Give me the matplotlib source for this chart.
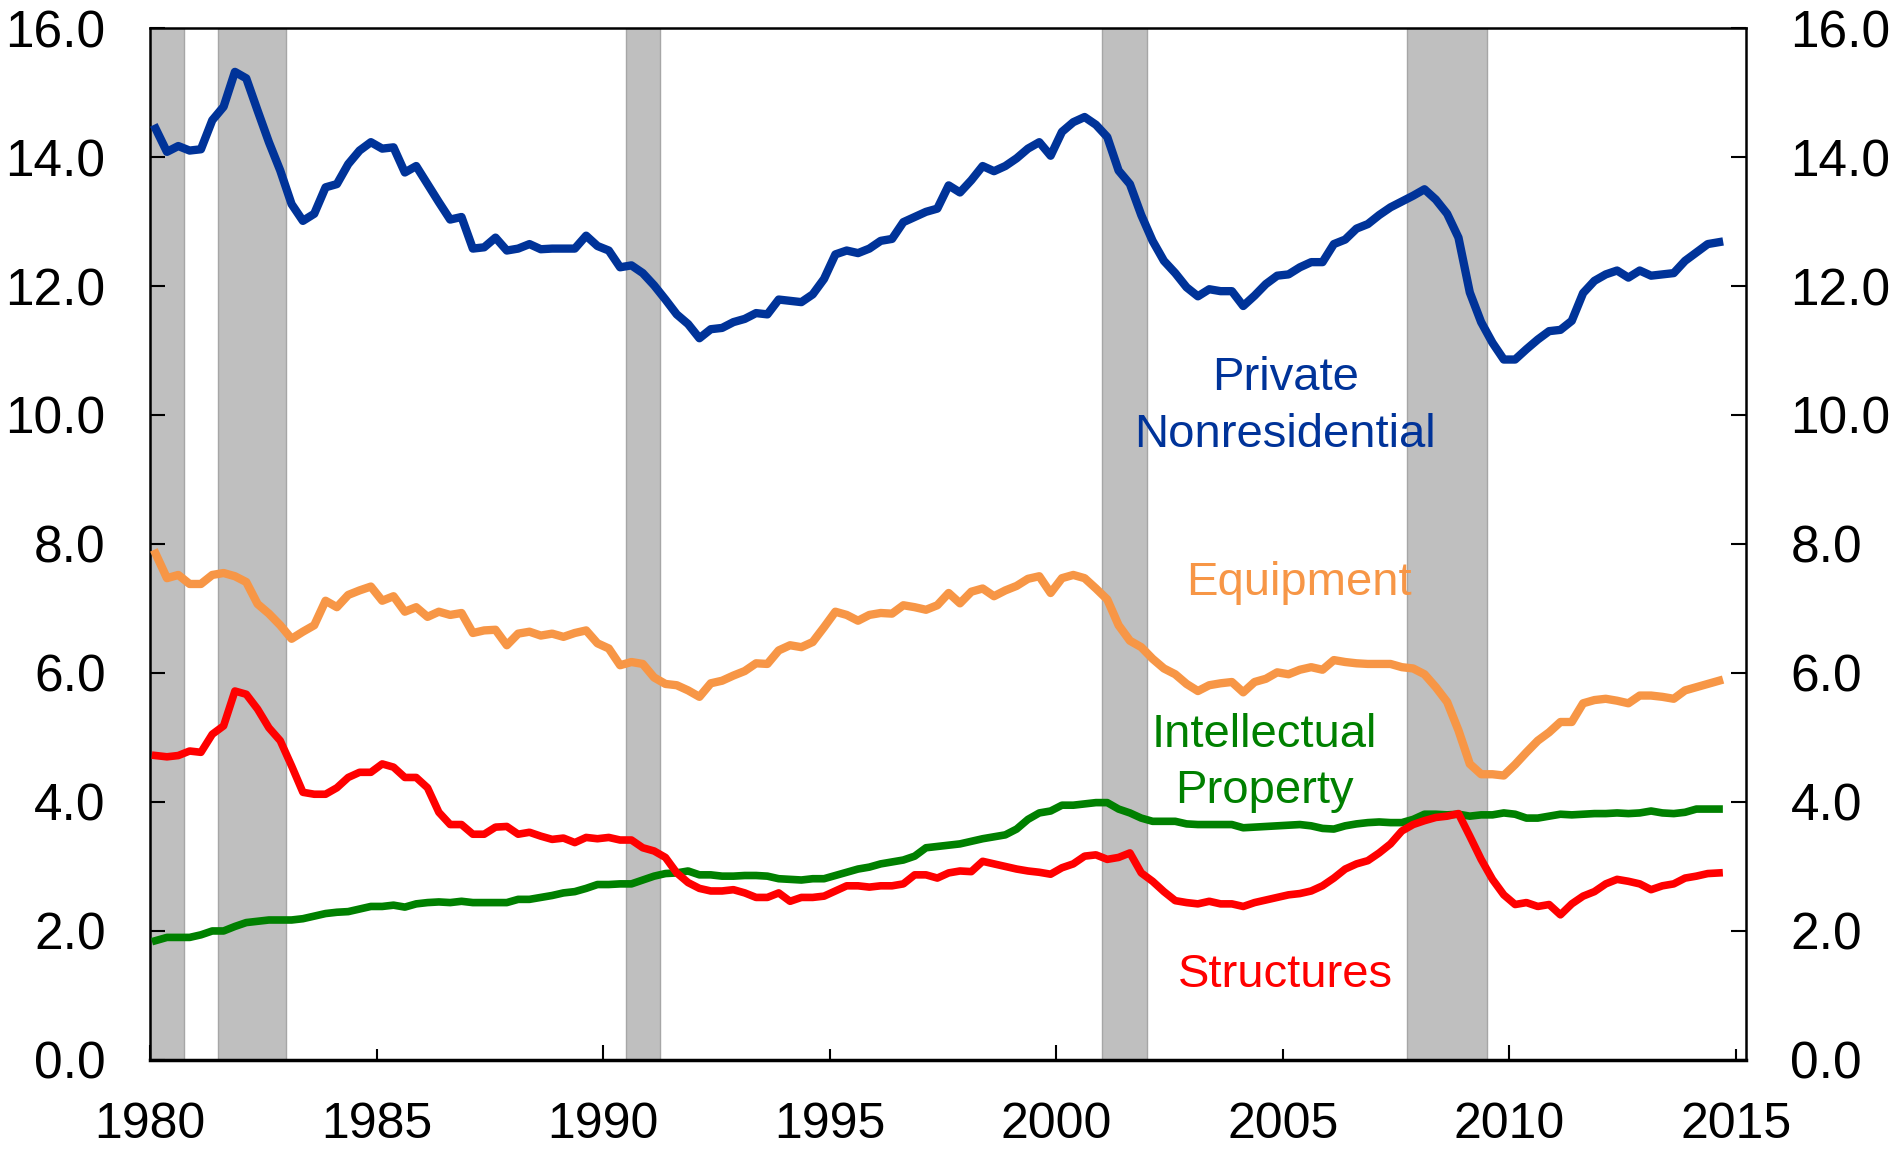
import matplotlib.pyplot as plt
import numpy as np

# quarterly data, 1980Q1 - 2014Q3 (percent of GDP)
start_year = 1980
nonres = [14.44, 14.08, 14.17, 14.10, 14.12, 14.57, 14.78, 15.32, 15.22, 14.72,
          14.23, 13.79, 13.27, 13.01, 13.12, 13.53, 13.58, 13.89, 14.10, 14.23,
          14.13, 14.15, 13.76, 13.86, 13.58, 13.30, 13.03, 13.07, 12.58, 12.60,
          12.75, 12.55, 12.58, 12.65, 12.57, 12.58, 12.58, 12.58, 12.78, 12.62,
          12.55, 12.29, 12.32, 12.20, 12.01, 11.79, 11.56, 11.41, 11.19, 11.33,
          11.35, 11.44, 11.49, 11.58, 11.56, 11.79, 11.77, 11.75, 11.87, 12.11,
          12.49, 12.55, 12.51, 12.58, 12.70, 12.73, 12.99, 13.07, 13.15, 13.20,
          13.56, 13.45, 13.64, 13.86, 13.78, 13.86, 13.98, 14.13, 14.23, 14.02,
          14.39, 14.54, 14.62, 14.50, 14.31, 13.79, 13.58, 13.10, 12.70, 12.39,
          12.20, 11.98, 11.84, 11.95, 11.92, 11.92, 11.69, 11.85, 12.03, 12.16,
          12.18, 12.29, 12.37, 12.37, 12.65, 12.72, 12.89, 12.96, 13.10, 13.22,
          13.31, 13.40, 13.50, 13.34, 13.12, 12.75, 11.90, 11.44, 11.12, 10.86,
          10.86, 11.02, 11.17, 11.30, 11.32, 11.46, 11.89, 12.08, 12.18, 12.24,
          12.13, 12.24, 12.16, 12.18, 12.20, 12.39, 12.52, 12.65, 12.68]

equipment = [7.85, 7.47, 7.52, 7.38, 7.38, 7.52, 7.55, 7.50, 7.41, 7.07,
             6.92, 6.74, 6.53, 6.64, 6.74, 7.12, 7.02, 7.21, 7.28, 7.34,
             7.12, 7.19, 6.95, 7.02, 6.87, 6.95, 6.90, 6.93, 6.62, 6.66,
             6.67, 6.43, 6.61, 6.64, 6.58, 6.61, 6.56, 6.62, 6.66, 6.46,
             6.38, 6.12, 6.17, 6.14, 5.93, 5.83, 5.81, 5.73, 5.63, 5.84,
             5.88, 5.96, 6.03, 6.15, 6.14, 6.35, 6.43, 6.40, 6.48, 6.71,
             6.95, 6.90, 6.81, 6.90, 6.93, 6.92, 7.05, 7.02, 6.98, 7.05,
             7.24, 7.08, 7.26, 7.31, 7.19, 7.28, 7.35, 7.46, 7.50, 7.24,
             7.47, 7.52, 7.47, 7.31, 7.14, 6.74, 6.50, 6.40, 6.22, 6.07,
             5.98, 5.83, 5.72, 5.81, 5.84, 5.86, 5.70, 5.86, 5.91, 6.01,
             5.98, 6.05, 6.09, 6.05, 6.20, 6.17, 6.15, 6.14, 6.14, 6.14,
             6.09, 6.07, 5.98, 5.78, 5.55, 5.11, 4.59, 4.43, 4.43, 4.41,
             4.58, 4.77, 4.95, 5.08, 5.24, 5.24, 5.53, 5.58, 5.60, 5.57,
             5.53, 5.65, 5.65, 5.63, 5.60, 5.73, 5.78, 5.83, 5.88]

ip = [1.85, 1.90, 1.90, 1.90, 1.94, 2.00, 2.00, 2.07, 2.13, 2.15,
      2.17, 2.17, 2.17, 2.19, 2.23, 2.27, 2.29, 2.30, 2.34, 2.38,
      2.38, 2.40, 2.37, 2.42, 2.44, 2.45, 2.44, 2.46, 2.44, 2.44,
      2.44, 2.44, 2.49, 2.49, 2.52, 2.55, 2.59, 2.61, 2.66, 2.72,
      2.72, 2.73, 2.73, 2.79, 2.85, 2.89, 2.90, 2.93, 2.87, 2.87,
      2.85, 2.85, 2.86, 2.86, 2.85, 2.81, 2.80, 2.79, 2.81, 2.81,
      2.86, 2.91, 2.96, 2.99, 3.04, 3.07, 3.10, 3.16, 3.29, 3.31,
      3.33, 3.35, 3.39, 3.43, 3.46, 3.49, 3.58, 3.73, 3.83, 3.86,
      3.95, 3.95, 3.97, 3.99, 3.99, 3.89, 3.83, 3.75, 3.70, 3.70,
      3.70, 3.66, 3.65, 3.65, 3.65, 3.65, 3.60, 3.61, 3.62, 3.63,
      3.64, 3.65, 3.63, 3.59, 3.58, 3.63, 3.66, 3.68, 3.69, 3.68,
      3.68, 3.73, 3.81, 3.81, 3.80, 3.81, 3.78, 3.80, 3.80, 3.83,
      3.81, 3.75, 3.75, 3.78, 3.81, 3.80, 3.81, 3.82, 3.82, 3.83,
      3.82, 3.83, 3.86, 3.83, 3.82, 3.84, 3.89, 3.89, 3.89]

structures = [4.72, 4.70, 4.72, 4.79, 4.77, 5.05, 5.18, 5.72, 5.67, 5.44,
              5.15, 4.95, 4.56, 4.15, 4.12, 4.12, 4.22, 4.38, 4.46, 4.46,
              4.59, 4.54, 4.38, 4.38, 4.22, 3.84, 3.65, 3.65, 3.50, 3.50,
              3.61, 3.62, 3.50, 3.53, 3.47, 3.42, 3.44, 3.37, 3.45, 3.43,
              3.45, 3.41, 3.41, 3.29, 3.24, 3.14, 2.90, 2.75, 2.66, 2.62,
              2.62, 2.64, 2.59, 2.52, 2.52, 2.59, 2.46, 2.52, 2.52, 2.54,
              2.62, 2.70, 2.70, 2.68, 2.70, 2.70, 2.73, 2.87, 2.87, 2.82,
              2.90, 2.93, 2.92, 3.08, 3.04, 3.00, 2.96, 2.93, 2.91, 2.88,
              2.98, 3.04, 3.16, 3.18, 3.11, 3.14, 3.21, 2.90, 2.77, 2.61,
              2.47, 2.44, 2.42, 2.46, 2.42, 2.42, 2.38, 2.44, 2.48, 2.52,
              2.56, 2.58, 2.62, 2.70, 2.82, 2.96, 3.04, 3.09, 3.21, 3.35,
              3.55, 3.65, 3.71, 3.76, 3.78, 3.82, 3.47, 3.11, 2.80, 2.56,
              2.41, 2.44, 2.38, 2.41, 2.25, 2.42, 2.54, 2.61, 2.73, 2.80,
              2.77, 2.73, 2.64, 2.70, 2.73, 2.82, 2.85, 2.89, 2.90]

# NBER recessions
rec_start = [1980.0, 1981.5, 1990.5, 2001.0, 2007.75]
rec_end = [1980.75, 1983.0, 1991.25, 2002.0, 2009.5]

x = start_year + 0.125 + 0.25 * np.arange(len(nonres))

plt.rcParams['font.family'] = ['Liberation Sans', 'DejaVu Sans']

fig = plt.figure(figsize=(19.03, 11.53), dpi=100)
ax = fig.add_axes([0.0788, 0.0807, 0.8387, 0.895])

for s, e in zip(rec_start, rec_end):
    ax.axvspan(s, e, facecolor='#BFBFBF', edgecolor='#A6A6A6', lw=1, zorder=0)

ax.plot(x, nonres, color='#003399', lw=6, zorder=3)
ax.plot(x, equipment, color='#F79646', lw=6, zorder=3)
ax.plot(x, ip, color='#008000', lw=5.5, zorder=3)
ax.plot(x, structures, color='#FF0000', lw=5.5, zorder=4)

# labels: y is the baseline of the last line
ax.text(2005.05, 9.50, 'Private\nNonresidential', color='#003399', fontsize=34,
        ha='center', va='baseline', linespacing=1.38)
ax.text(2005.35, 7.21, 'Equipment', color='#F79646', fontsize=34,
        ha='center', va='baseline')
ax.text(2004.6, 3.98, 'Intellectual\nProperty', color='#008000', fontsize=34,
        ha='center', va='baseline', linespacing=1.36)
ax.text(2005.05, 1.13, 'Structures', color='#FF0000', fontsize=34,
        ha='center', va='baseline')

ax.set_xlim(1980, 2015.22)
ax.set_ylim(0, 16)
ax.set_xticks(np.arange(1980, 2016, 5))
ax.set_yticks(np.arange(0, 17, 2))
ax.set_yticklabels(['%.1f' % v for v in np.arange(0, 17, 2)])

ax.tick_params(axis='x', direction='in', length=8, width=1.5, labelsize=36, pad=30)
ax.tick_params(axis='y', direction='in', length=11, width=1.5, labelsize=37, pad=32,
               left=True, right=True, labelleft=True, labelright=True)
for tick, yr in zip(ax.xaxis.get_major_ticks(), np.arange(1980, 2016, 5)):
    if yr % 10 == 0:
        tick.tick1line.set_markersize(11)

for sp in ax.spines.values():
    sp.set_linewidth(1.8)
ax.spines['bottom'].set_linewidth(2.5)

fig.savefig('out.png', dpi=100)
